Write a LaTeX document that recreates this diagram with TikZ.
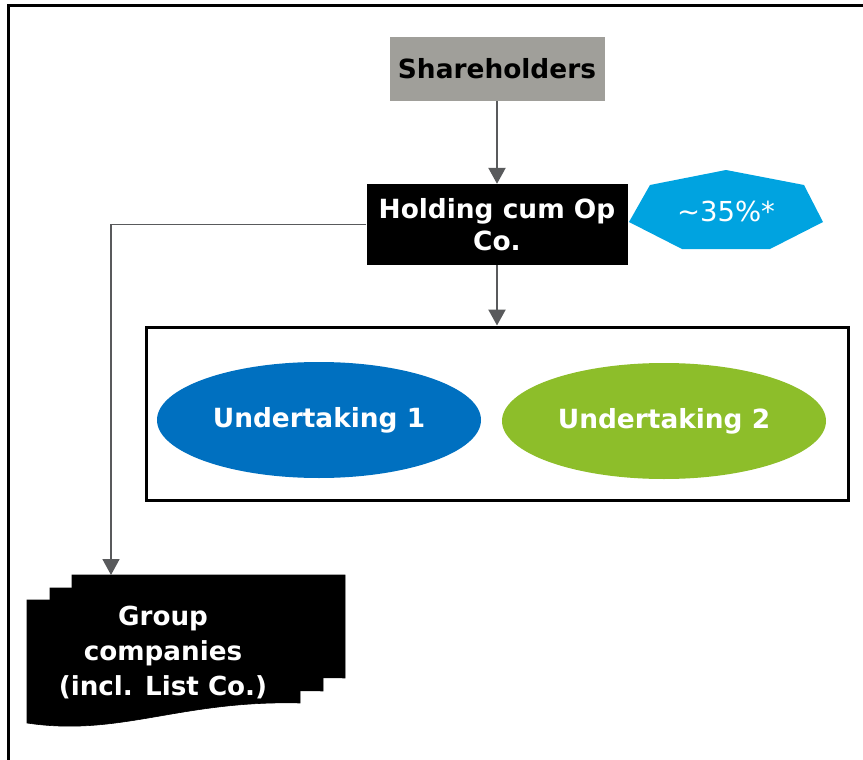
\documentclass[tikz,border=0pt]{standalone}
\usepackage{fontspec}
\setmainfont{DejaVu Sans}
\usetikzlibrary{arrows.meta,shapes.geometric}
\definecolor{shgray}{HTML}{A09F9A}
\definecolor{arrgray}{HTML}{595A5C}
\definecolor{cyanpoly}{HTML}{00A3E0}
\definecolor{ublue}{HTML}{0070C0}
\definecolor{ugreen}{HTML}{8DBE2A}
\begin{document}
\begin{tikzpicture}[x=1pt,y=-1pt,
  arr/.style={draw=arrgray, line width=2.4pt, -{Triangle[width=17pt,length=16pt]}},
  thinarr/.style={draw=arrgray, line width=1.6pt, -{Triangle[width=17pt,length=16pt]}},
  boldtxt/.style={font=\fontsize{26.4}{32}\selectfont\bfseries, align=center},
  docshape/.style={fill=black, draw=black, line width=0.6pt},
  ell/.style={ellipse, minimum width=324pt, minimum height=116pt, inner sep=0pt, text=white, boldtxt}
]
\useasboundingbox (0,0) rectangle (863,760);
% outer frame
\draw[line width=3pt] (8,775) -- (8,6) -- (875,6);

% Shareholders
\node[fill=shgray, minimum width=215pt, minimum height=64pt, inner sep=0pt, boldtxt] (sh) at (497,69) {Shareholders};

% Holding
\node[fill=black, text=white, minimum width=261pt, minimum height=81pt, inner sep=0pt, boldtxt] (hold) at (497,224.5) {Holding cum Op\\Co.};

% heptagon
\fill[cyanpoly] (726,170) -- (804,185) -- (823,222) -- (770,249) -- (682,249) -- (629,222) -- (650,185) -- cycle;
\node[text=white, font=\fontsize{27.5}{30}\selectfont] (pct) at (726,211) {\textasciitilde 35\%*};

% undertakings box
\node[draw=black, line width=3pt, minimum width=702pt, minimum height=173pt, inner sep=0pt] (ubox) at (497,413.5) {};
\node[ell, fill=ublue] (u1) at (319,420) {Undertaking 1};
\node[ell, fill=ugreen] (u2) at (664,421) {Undertaking 2};

% group companies documents
\foreach \dx/\dy in {45/-25, 23/-12, 0/0} {
  \begin{scope}[shift={(\dx,\dy)}]
    \path[docshape] (27,600) -- (300,600) -- (300,703) .. controls (180,700) and (120,737) .. (27,723) -- cycle;
  \end{scope}
}
\coordinate (gctop) at (111,575);
\node[text=white, font=\fontsize{26.2}{35}\selectfont\bfseries, align=center] (gc) at (163,652) {Group\\companies\\(incl. List Co.)};

% connectors
\draw[arr] (sh.south) -- (hold.north);
\draw[arr] (hold.south) -- (ubox.north);
\draw[thinarr] (hold.west) -| (gctop);
\end{tikzpicture}
\end{document}
